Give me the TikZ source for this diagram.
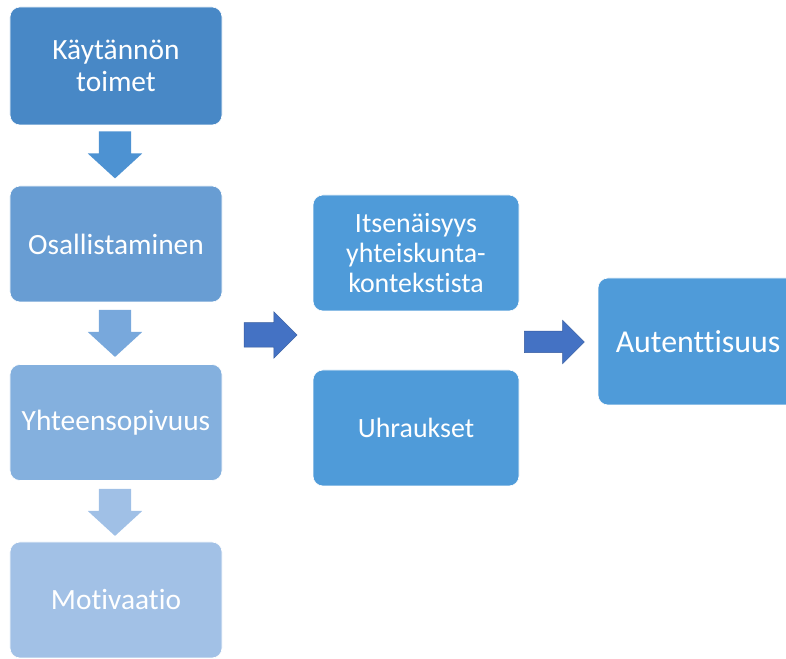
\documentclass[tikz,border=0pt]{standalone}
\usepackage{fontspec}
\setmainfont[Ligatures={NoCommon}]{Carlito}
\usetikzlibrary{shapes.arrows}
\definecolor{boxA}{RGB}{72,136,198}
\definecolor{boxB}{RGB}{104,157,211}
\definecolor{boxC}{RGB}{132,176,222}
\definecolor{boxD}{RGB}{162,193,230}
\definecolor{boxM}{RGB}{79,155,217}
\definecolor{arrA}{RGB}{77,146,210}
\definecolor{arrB}{RGB}{120,168,220}
\definecolor{arrC}{RGB}{160,192,230}
\definecolor{arrR}{RGB}{68,114,196}
\tikzset{
  stepbox/.style={rectangle, rounded corners=10bp, draw=white, line width=0.6bp,
    text=white, align=center, font=\fontsize{29.5}{32}\selectfont},
  downarrow/.style={single arrow, rotate=-90, inner xsep=0pt, minimum height=47bp,
    single arrow tip angle=95},
  rightarrow/.style={single arrow, inner xsep=0pt, draw=arrR!80!black, line width=0.5bp,
    fill=arrR}
}
\begin{document}
\begin{tikzpicture}[x=1bp,y=1bp]
\useasboundingbox (0,0) rectangle (786,659);
\clip (0,0) rectangle (786,659);
% left column
\node[stepbox, fill=boxA, minimum width=212bp, minimum height=118bp] (kt) at (116,593) {Käytännön\\toimet};
\node[stepbox, fill=boxB, minimum width=212bp, minimum height=116bp] (os) at (116,415) {Osallistaminen};
\node[stepbox, fill=boxC, minimum width=212bp, minimum height=116bp] (yh) at (116,236.5) {Yhteensopivuus};
\node[stepbox, fill=boxD, minimum width=212bp, minimum height=116bp] (mo) at (116,59) {Motivaatio};
\node[downarrow, fill=arrA, inner ysep=16bp, single arrow head extend=11bp] (d1) at (115,511.5) {};
\node[downarrow, fill=arrB, inner ysep=16bp, single arrow head extend=11bp] (d2) at (115,333) {};
\node[downarrow, fill=arrC, inner ysep=16bp, single arrow head extend=11bp] (d3) at (115,154) {};
% middle column
\node[stepbox, fill=boxM, minimum width=206bp, minimum height=116bp, font=\fontsize{28}{30}\selectfont] (it) at (416,406) {Itsenäisyys\\yhteiskunta-\\kontekstista};
\node[stepbox, fill=boxM, minimum width=206bp, minimum height=116bp, font=\fontsize{28}{30}\selectfont] (uh) at (416,231) {Uhraukset};
\node[rightarrow, minimum height=53bp, inner ysep=12bp, single arrow head extend=11bp] (r1) at (264.5,324) {};
% right
\node[stepbox, fill=boxM, minimum width=200bp, minimum height=127bp, font=\fontsize{32}{36}\selectfont] (au) at (698,317.5) {Autenttisuus};
\node[rightarrow, minimum height=60bp, inner ysep=10.5bp, single arrow head extend=11bp] (r2) at (549,317) {};
\end{tikzpicture}
\end{document}
